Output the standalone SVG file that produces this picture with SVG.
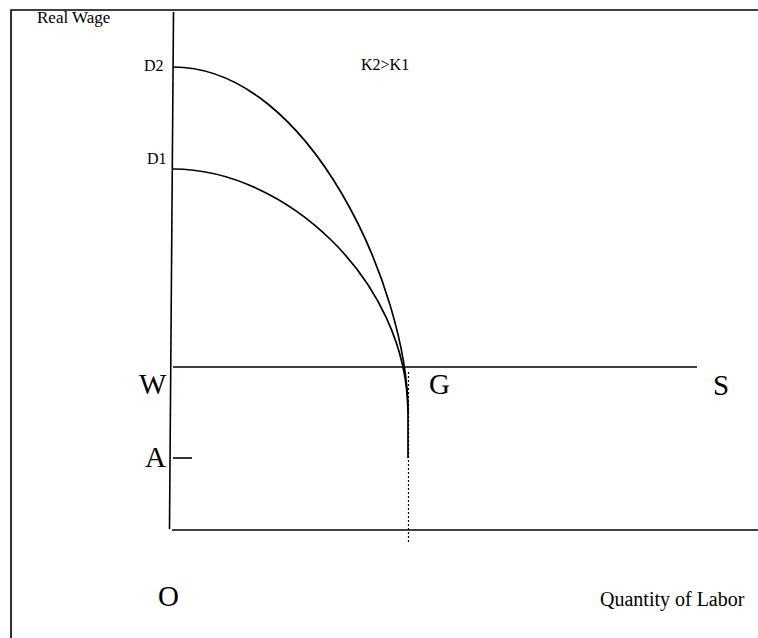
<svg xmlns="http://www.w3.org/2000/svg" width="758" height="638" viewBox="0 0 758 638">
<style>
.ln{stroke:#000;stroke-width:1.6;fill:none}
.cv{stroke:#000;stroke-width:1.7;fill:none}
.dot{stroke:#000;stroke-width:1.2;stroke-dasharray:2,2;fill:none}
.sm{font-family:"Liberation Serif","Times New Roman",serif;font-size:16px;fill:#000}
.big{font-family:"Liberation Serif","Times New Roman",serif;font-size:29px;fill:#000}
</style>
<rect width="758" height="638" fill="#fff"/>
<g id="frame">
<path class="ln" d="M11,640 L11,10 L760,10"/>
</g>
<g id="axes">
<path class="ln" d="M173.5,12 L169.5,529"/>
<path class="ln" d="M172,530 L758,530"/>
</g>
<g id="supply">
<path class="ln" d="M173,367 L697,367"/>
</g>
<g id="tickA">
<path class="ln" d="M173,458 L192,458"/>
</g>
<g id="connectors">
<path class="dot" d="M408.5,372 L408.5,543"/>
<path id="D2curve" class="cv" d="M173,67 C310,67 408,290 408,412 L408,458"/>
<path id="D1curve" class="cv" d="M173,169 C285,169 407,280 408,412"/>
</g>
<g id="labels">
<text class="sm" x="37" y="23" style="font-size:17px">Real Wage</text>
<text class="sm" x="144" y="71">D2</text>
<text class="sm" x="147" y="164">D1</text>
<text class="sm" x="361" y="70">K2&gt;K1</text>
<text class="sm" x="600" y="606" style="font-size:20px">Quantity of Labor</text>
<text class="big" x="139" y="394">W</text>
<text class="big" x="429" y="394">G</text>
<text class="big" x="713" y="395">S</text>
<text class="big" x="145" y="467">A</text>
<text class="big" x="158" y="606">O</text>
</g>
</svg>
